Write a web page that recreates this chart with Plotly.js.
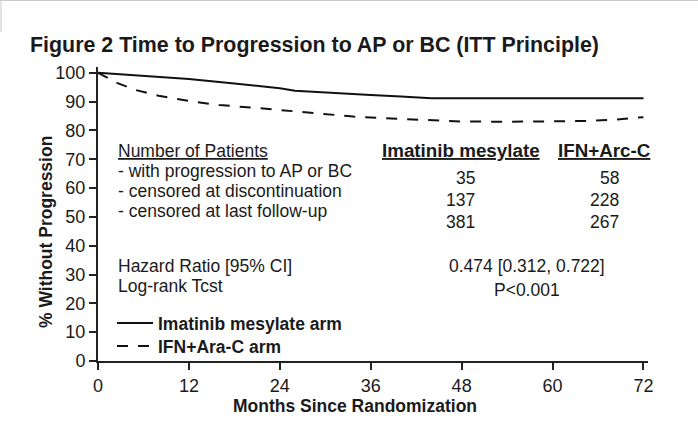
<!DOCTYPE html>
<html>
<head>
<meta charset="utf-8">
<script src="https://cdn.plot.ly/plotly-3.0.1.min.js"></script>
<style>html,body{margin:0;padding:0;background:#fff;}#chart{width:698px;height:434px;}</style>
</head>
<body>
<div id="chart"></div>
<script>
// ---- data ----
const imatinibMonths = [0, 6, 12, 18, 22, 24, 26, 30, 36, 40, 44, 48, 54, 60, 66, 72];
const imatinibPct    = [100, 99, 97.8, 96.3, 95.2, 94.6, 93.8, 93.1, 92.3, 91.8, 91.2, 91.2, 91.2, 91.2, 91.2, 91.2];
const ifnMonths = [0, 1, 2.5, 5, 8, 12.6, 16, 21.4, 28, 33.7, 40, 47.8, 54, 61, 65, 68, 72];
const ifnPct    = [100, 98.5, 96.5, 94, 92, 90, 88.8, 87.7, 86.2, 84.8, 84, 83.1, 83, 83.1, 83.3, 83.7, 84.6];
const seriesNames = ['Imatinib mesylate arm', 'IFN+Ara-C arm'];
const xTicks = [0, 12, 24, 36, 48, 60, 72];
const yTicks = [0, 10, 20, 30, 40, 50, 60, 70, 80, 90, 100];
const tableTitle = 'Number of Patients';
const tableRows = ['- with progression to AP or BC', '- censored at discontinuation', '- censored at last follow-up'];
const armHeaders = ['Imatinib mesylate', 'IFN+Arc-C'];
const imatinibCounts = [35, 137, 381];
const ifnCounts = [58, 228, 267];
const statLabels = ['Hazard Ratio [95% CI]', 'Log-rank Tcst'];
const statValues = ['0.474 [0.312, 0.722]', 'P<0.001'];
const titleText = 'Figure 2 Time to Progression to AP or BC (ITT Principle)';
const xTitle = 'Months Since Randomization';
const yTitle = '% Without Progression';

// ---- layout geometry (pixels) ----
const W = 698, H = 434, L = 98, R = 50, T = 67, B = 73;
const PW = W - L - R, PH = H - T - B;
const FX = px => (px - L) / PW;          // pixel x -> paper
const FY = py => (H - B - py) / PH;      // pixel y -> paper
const FAM = 'Liberation Sans, Arial, sans-serif';
const INK = '#1a1a1a';
const mid = (base, size) => base - 0.3465 * size;  // baseline -> box centre

function note(text, x, base, size, anchor, bold, extra) {
  return Object.assign({
    text: text, xref: 'paper', yref: 'paper', x: FX(x), y: FY(mid(base, size)),
    xanchor: anchor, yanchor: 'middle', showarrow: false, borderpad: 0,
    font: {family: FAM, size: size, color: INK, weight: bold ? 'bold' : 'normal'}
  }, extra || {});
}

const annotations = [];
annotations.push(note('<u>' + tableTitle + '</u>', 117, 156.7, 17.5, 'left'));
const rowBase = [176.7, 196.7, 216.7];
tableRows.forEach((t, i) => annotations.push(note(t, 117, rowBase[i], 17.5, 'left')));
annotations.push(note('<u>' + armHeaders[0] + '</u>', 461, 156.7, 18.8, 'center', true));
annotations.push(note('<u>' + armHeaders[1] + '</u>', 604, 156.7, 18.8, 'center', true));
const numBase = [184, 205.7, 228.3];
imatinibCounts.forEach((v, i) => annotations.push(note(String(v), 476, numBase[i], 17.5, 'right')));
ifnCounts.forEach((v, i) => annotations.push(note(String(v), 620, numBase[i], 17.5, 'right')));
annotations.push(note(statLabels[0], 117, 271.6, 17.5, 'left'));
annotations.push(note(statLabels[1], 117, 291.7, 17.5, 'left'));
annotations.push(note(statValues[0], 527, 271.7, 17.5, 'center'));
annotations.push(note(statValues[1], 527, 296, 17.5, 'center'));
annotations.push(note(xTitle, 355, 411.7, 17.5, 'center', true));
annotations.push(Object.assign(note(yTitle, 46, 0, 17.5, 'center', true), {y: FY(232), textangle: -90}));

const traces = [
  {x: imatinibMonths, y: imatinibPct, name: seriesNames[0], type: 'scatter', mode: 'lines',
   legend: 'legend', line: {color: '#111', width: 2}},
  {x: ifnMonths, y: ifnPct, name: seriesNames[1], type: 'scatter', mode: 'lines',
   legend: 'legend2', line: {color: '#111', width: 2, dash: '11px,10px'}}
];

const axisCommon = {
  showline: true, linewidth: 2, linecolor: '#222', showgrid: false, zeroline: false,
  ticks: 'outside', ticklen: 7, tickwidth: 2, tickcolor: '#222',
  tickfont: {family: FAM, size: 18, color: INK}, fixedrange: true
};
const legendCommon = {xanchor: 'left', yanchor: 'top', bgcolor: 'rgba(0,0,0,0)', itemwidth: 36,
  font: {family: FAM, size: 17.5, color: INK, weight: 'bold'}};

const layout = {
  width: W, height: H,
  margin: {l: L, r: R, t: T, b: B, pad: 0},
  paper_bgcolor: '#fff', plot_bgcolor: '#fff',
  title: {text: titleText, xref: 'container', yref: 'container', x: 30 / W, xanchor: 'left',
          y: 1 - mid(51.7, 21.4) / H, yanchor: 'middle',
          font: {family: FAM, size: 21.4, color: INK, weight: 'bold'}},
  xaxis: Object.assign({}, axisCommon, {range: [0, 72.6], tickvals: xTicks, ticktext: xTicks.map(String)}),
  yaxis: Object.assign({}, axisCommon, {range: [0, 102], tickvals: yTicks, ticktext: yTicks.map(String)}),
  showlegend: true,
  legend: Object.assign({x: FX(112), y: FY(305)}, legendCommon),
  legend2: Object.assign({x: FX(112), y: FY(328)}, legendCommon),
  annotations: annotations,
  shapes: [
    {type: 'line', xref: 'paper', yref: 'paper', x0: FX(0), x1: FX(698), y0: FY(0.5), y1: FY(0.5),
     line: {color: '#c8c8c8', width: 1}},
    {type: 'line', xref: 'paper', yref: 'paper', x0: FX(1), x1: FX(1), y0: FY(0), y1: FY(32),
     line: {color: '#c8c8c8', width: 1}}
  ]
};

Plotly.newPlot('chart', traces, layout, {displayModeBar: false, staticPlot: true});
</script>
</body>
</html>
